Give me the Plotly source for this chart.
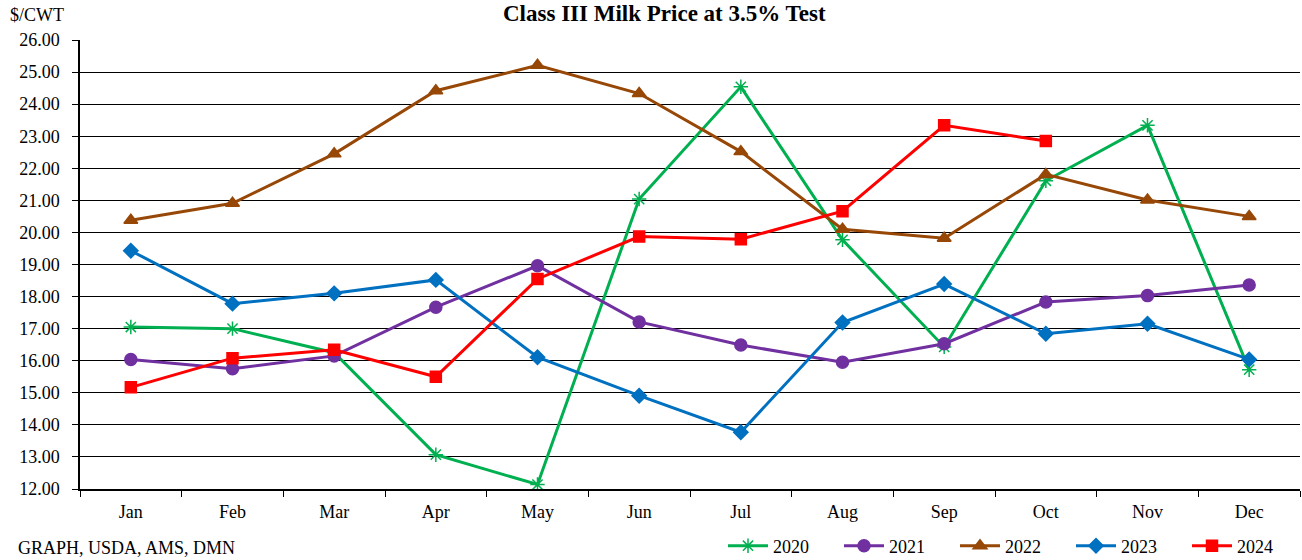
import plotly.graph_objects as go

months = ["Jan", "Feb", "Mar", "Apr", "May", "Jun", "Jul", "Aug", "Sep", "Oct", "Nov", "Dec"]
y2020 = [17.05, 17.00, 16.25, 13.07, 12.14, 21.04, 24.54, 19.77, 16.43, 21.61, 23.34, 15.72]
y2021 = [16.04, 15.75, 16.15, 17.67, 18.96, 17.21, 16.49, 15.95, 16.53, 17.83, 18.03, 18.36]
y2022 = [20.38, 20.91, 22.45, 24.42, 25.21, 24.33, 22.52, 20.10, 19.82, 21.81, 21.01, 20.50]
y2023 = [19.43, 17.78, 18.10, 18.52, 16.11, 14.91, 13.77, 17.19, 18.39, 16.84, 17.15, 16.04]
y2024 = [15.17, 16.08, 16.34, 15.50, 18.55, 19.87, 19.79, 20.66, 23.34, 22.85]
y_ticks = [12, 13, 14, 15, 16, 17, 18, 19, 20, 21, 22, 23, 24, 25, 26]

series = [
    ("2020", y2020, "#00B050", "asterisk-open", 12),
    ("2021", y2021, "#7030A0", "circle", 12),
    ("2022", y2022, "#974706", "triangle-up", 12),
    ("2023", y2023, "#0070C0", "diamond", 11),
    ("2024", y2024, "#FF0000", "square", 11),
]

FONT = "Liberation Serif, Times New Roman, serif"

fig = go.Figure()
for name, vals, color, sym, size in series:
    fig.add_trace(go.Scatter(
        x=months[:len(vals)], y=vals, name=name, mode="lines+markers",
        line=dict(color=color, width=3),
        marker=dict(symbol=sym, size=size, color=color,
                    line=dict(color=color, width=1.5)),
    ))

fig.update_layout(
    width=1302, height=560,
    margin=dict(l=80, r=2, t=40, b=71),
    paper_bgcolor="white", plot_bgcolor="white",
    font=dict(family=FONT, size=18, color="black"),
    showlegend=True,
    legend=dict(orientation="h", xref="container", yref="container",
                x=0.5553, xanchor="left", y=0.025, yanchor="middle",
                font=dict(family=FONT, size=18, color="black"),
                entrywidth=61, entrywidthmode="pixels", itemwidth=40,
                bgcolor="rgba(0,0,0,0)", tracegroupgap=0),
    xaxis=dict(type="category", categoryorder="array", categoryarray=months,
               range=[-0.5, 11.5], showgrid=False, showline=True, linecolor="black",
               linewidth=1.5, ticks="outside", tickson="boundaries", ticklen=6,
               tickcolor="black", tickfont=dict(family=FONT, size=18), zeroline=False,
               automargin=False, ticklabelstandoff=6),
    yaxis=dict(range=[12, 26], tickvals=y_ticks, tickformat=".2f", showgrid=True,
               gridcolor="black", gridwidth=1.2, showline=True, linecolor="black",
               linewidth=1.5, ticks="outside", ticklen=6, tickcolor="black",
               tickfont=dict(family=FONT, size=18), zeroline=False, automargin=False,
               ticklabelstandoff=9),
    annotations=[
        dict(text="<b>Class III Milk Price at 3.5% Test</b>", xref="paper", yref="paper",
             x=(664 - 80) / 1220, y=(489 - 14) / 449, xanchor="center", yanchor="middle",
             showarrow=False, font=dict(family=FONT, size=23, color="black")),
        dict(text="$/CWT", xref="paper", yref="paper", x=(8 - 80) / 1220, y=(489 - 15) / 449,
             xanchor="left", yanchor="middle", showarrow=False,
             font=dict(family=FONT, size=18, color="black")),
        dict(text="GRAPH, USDA, AMS, DMN", xref="paper", yref="paper",
             x=(16 - 80) / 1220, y=(489 - 548) / 449,
             xanchor="left", yanchor="middle", showarrow=False,
             font=dict(family=FONT, size=18, color="black")),
    ],
)

fig.write_html("out.html", config={"displayModeBar": False},
               post_script="document.body.style.margin='0';document.body.style.overflow='hidden';")
